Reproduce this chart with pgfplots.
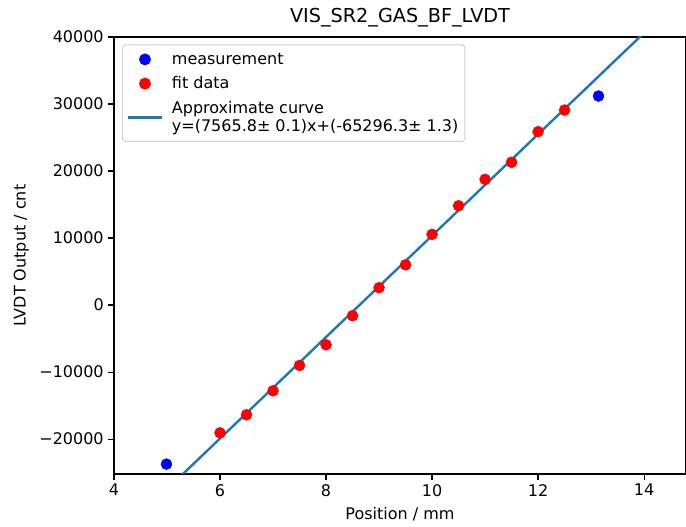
\documentclass[border=0pt]{standalone}
\usepackage{pgfplots}
\pgfplotsset{compat=1.18}
\usepackage{fontspec}
\setmainfont{DejaVu Sans}
\definecolor{mplblue}{HTML}{1F77B4}
\begin{document}
\begin{tikzpicture}[x=1pt,y=1pt]
\useasboundingbox (-85.5,-39.75) rectangle (514.5-85.5,327.75+27.75);
\begin{axis}[
  at={(0,0)}, anchor=south west,
  scale only axis, width=429pt, height=327.75pt,
  xmin=4, xmax=14.79, ymin=-25200, ymax=40000,
  xtick={4,6,8,10,12,14},
  ytick={-20000,-10000,0,10000,20000,30000,40000},
  yticklabels={−20000,−10000,0,10000,20000,30000,40000},
  scaled y ticks=false,
  /pgf/number format/assume math mode=true,
  tick align=outside, tick pos=left,
  major tick length=4.2pt,
  every tick/.style={black, line width=0.9pt},
  axis line style={line width=0.9pt},
  tick label style={font=\fontsize{12}{14}\selectfont},
  label style={font=\fontsize{12}{14}\selectfont},
  title style={font=\fontsize{14.4}{17}\selectfont, yshift=-2pt},
  title={VIS\_SR2\_GAS\_BF\_LVDT},
  xlabel={Position / mm},
  ylabel={LVDT Output / cnt},
  xlabel style={yshift=-1.5pt},
  ylabel style={yshift=1pt},
  legend cell align=left,
  legend style={at={(0,1)}, anchor=north west, xshift=6pt, yshift=-5.5pt,
    draw=black!18, rounded corners=2.5pt, line width=0.7pt,
    font=\fontsize{12}{13.5}\selectfont,
    nodes={align=left, inner sep=1.8pt},
    /tikz/every odd column/.append style={column sep=4.5pt},
    row sep=4.3pt, inner xsep=3pt, inner ysep=4.2pt},
  legend image code/.code={\draw[#1] (0pt,0pt) -- (26pt,0pt);},
]
\addplot[blue, only marks, mark=*, mark size=4.1pt, mark options={draw=blue, fill=blue},
  legend image code/.code={\fill[blue] (13pt,0pt) circle (4.1pt); \path (0pt,0pt) (26pt,0pt);}]
  coordinates {(4.99,-23730) (13.14,31190)};
\addlegendentry{measurement}
\addplot[red, only marks, mark=*, mark size=4.1pt, mark options={draw=red, fill=red},
  legend image code/.code={\fill[red] (13pt,0pt) circle (4.1pt); \path (0pt,0pt) (26pt,0pt);}]
  coordinates {
  (6.0,-19060) (6.5,-16370) (7.0,-12790) (7.5,-9000) (8.0,-5920)
  (8.5,-1590) (9.0,2590) (9.5,6010) (10.0,10550) (10.5,14820)
  (11.0,18760) (11.5,21300) (12.0,25870) (12.5,29100)};
\addlegendentry{fit data}
\addplot[mplblue, line width=1.8pt, no marks] coordinates {(5.0,-27467.3) (14.5,44407.8)};
\addlegendentry{Approximate curve\\y=(7565.8± 0.1)x+(-65296.3± 1.3)}
\end{axis}
\end{tikzpicture}
\end{document}
